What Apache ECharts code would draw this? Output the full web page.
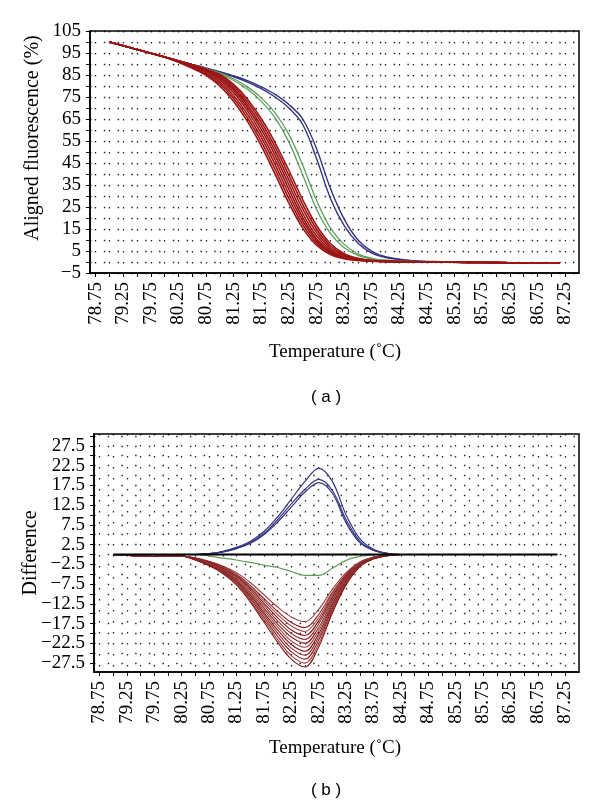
<!DOCTYPE html>
<html><head><meta charset="utf-8">
<script src="https://cdn.jsdelivr.net/npm/echarts@6/dist/echarts.min.js"></script>
<style>html,body{margin:0;padding:0;background:#fff}#c{width:600px;height:804px}</style>
</head><body><div id="c"></div>
<script>
// ---------- shared tick / label values ----------
const xTickValues = [78.75,79.0,79.25,79.5,79.75,80.0,80.25,80.5,80.75,81.0,81.25,81.5,81.75,82.0,82.25,82.5,82.75,83.0,83.25,83.5,83.75,84.0,84.25,84.5,84.75,85.0,85.25,85.5,85.75,86.0,86.25,86.5,86.75,87.0,87.25];
const xLabelValues = [78.75,79.25,79.75,80.25,80.75,81.25,81.75,82.25,82.75,83.25,83.75,84.25,84.75,85.25,85.75,86.25,86.75,87.25];
const yTickValuesA = [-5,0,5,10,15,20,25,30,35,40,45,50,55,60,65,70,75,80,85,90,95,100,105];
const yLabelValuesA = [-5,5,15,25,35,45,55,65,75,85,95,105];
const yTickValuesB = [-27.5,-25,-22.5,-20,-17.5,-15,-12.5,-10,-7.5,-5,-2.5,0,2.5,5,7.5,10,12.5,15,17.5,20,22.5,25,27.5,30];
const yLabelValuesB = [-27.5,-22.5,-17.5,-12.5,-7.5,-2.5,2.5,7.5,12.5,17.5,22.5,27.5];

// ---------- (a) aligned fluorescence ----------
const tempsA = [79.0,79.5,80.0,80.5,80.75,81.0,81.25,81.5,81.75,82.0,82.25,82.5,82.75,83.0,83.25,83.5,83.75,84.0,84.5,85.0,85.5,86.0,86.5,87.15];
const blueA1 = [100,96.6,93.2,89.7,88.0,86.2,84.2,81.8,78.8,75.0,70.0,62.5,47.0,29.0,16.5,8.5,4.0,2.0,0.5,0.1,-0.05,-0.2,-0.35,-0.5];
const blueA2 = [100,96.6,93.2,89.8,88.2,86.5,84.6,82.4,79.6,76.2,71.6,65.0,51.5,33.5,19.5,10.0,4.8,2.4,0.6,0.15,-0.05,-0.2,-0.35,-0.5];
const greenA1 = [100,96.6,93.2,89.6,87.6,85.5,82.5,78.5,73.0,65.5,54.5,39.5,24.0,13.0,6.5,3.0,1.4,0.7,0.2,0.05,-0.1,-0.25,-0.4,-0.55];
const greenA2 = [100,96.6,93.2,89.7,87.9,86.0,83.3,79.6,74.6,67.8,58.0,44.0,28.0,15.5,8.0,3.7,1.7,0.8,0.25,0.05,-0.1,-0.25,-0.4,-0.55];
const redA1 = [100,96.6,93.2,88.1,84.9,80.0,73.0,63.9,52.8,39.9,26.7,15.4,7.6,3.4,1.5,0.7,0.4,0.2,0.1,0,-0.15,-0.3,-0.45,-0.6];
const redA2 = [100,96.6,93.2,88.4,85.5,80.9,74.3,65.5,54.7,42.1,28.8,17.0,8.6,3.9,1.7,0.8,0.4,0.2,0.1,0,-0.15,-0.3,-0.45,-0.6];
const redA3 = [100,96.6,93.2,88.8,86.1,81.8,75.6,67.1,56.6,44.3,30.9,18.6,9.6,4.3,1.9,0.9,0.45,0.22,0.1,0,-0.15,-0.3,-0.45,-0.6];
const redA4 = [100,96.6,93.2,89.2,86.7,82.7,76.9,68.7,58.5,46.4,33.0,20.2,10.5,4.8,2.1,1.0,0.5,0.25,0.1,0,-0.15,-0.3,-0.45,-0.6];
const redA5 = [100,96.6,93.2,89.5,87.2,83.5,78.0,70.1,60.3,48.5,35.1,22.0,11.8,5.5,2.4,1.1,0.55,0.27,0.1,0,-0.15,-0.3,-0.45,-0.6];
const redA6 = [100,96.6,93.2,89.6,87.4,84.1,78.9,71.4,61.9,50.4,37.2,24.1,13.4,6.4,2.9,1.3,0.62,0.3,0.12,0,-0.15,-0.3,-0.45,-0.6];
const redA7 = [100,96.6,93.2,89.6,87.5,84.7,79.8,72.7,63.5,52.3,39.4,26.2,15.0,7.4,3.3,1.5,0.7,0.35,0.12,0,-0.15,-0.3,-0.45,-0.6];
const redA8 = [100,96.6,93.2,89.6,87.6,85.2,80.7,74.0,65.1,54.2,41.6,28.3,16.6,8.4,3.8,1.7,0.8,0.4,0.15,0,-0.15,-0.3,-0.45,-0.6];

// ---------- (b) difference ----------
const tempsB = [79.0,79.5,79.75,80.0,80.25,80.5,80.75,81.0,81.25,81.5,81.75,82.0,82.25,82.5,82.75,83.0,83.25,83.5,83.75,84.0,84.25,84.5,85.0,86.0,87.1];
const blackB = [0,0,0,0,0,0,0,0,0,0,0,0,0,0,0,0,0,0,0,0,0,0,0,0,0];
const blueB1 = [0,0,0,0,0,0,0.2,0.8,1.8,3.3,5.8,9.5,14.0,18.5,21.8,18.5,10.0,4.0,1.3,0.3,0,0,0,0,0];
const blueB2 = [0,0,0,0,0,0,0.2,0.7,1.6,3.0,5.3,8.8,12.8,16.5,19.0,16.2,8.8,3.4,1.1,0.3,0,0,0,0,0];
const blueB3 = [0,0,0,0,0,0,0.2,0.6,1.5,2.8,5.0,8.2,12.0,15.8,18.2,15.5,8.0,3.0,1.0,0.25,0,0,0,0,0];
const greenB = [0,0,0,0,0,0,-0.4,-0.9,-1.4,-2.0,-2.7,-3.3,-4.3,-5.3,-5.3,-3.5,-1.5,-0.5,-0.1,0,0,0,0,0,0];
const redB1 = [0,-0.4,-0.5,-0.3,-0.4,-0.85,-1.7,-2.9,-4.6,-7.1,-10.2,-13.3,-15.8,-17.0,-13.9,-8.8,-4.6,-1.9,-0.7,-0.2,0,0,0,0,0];
const redB2 = [0,-0.4,-0.5,-0.3,-0.4,-0.9,-1.85,-3.1,-5.0,-7.8,-11.1,-14.4,-17.2,-18.5,-15.2,-9.6,-5.0,-2.0,-0.7,-0.2,0,0,0,0,0];
const redB3 = [0,-0.4,-0.5,-0.3,-0.4,-1.0,-1.95,-3.3,-5.3,-8.2,-11.7,-15.2,-18.1,-19.5,-16.0,-10.1,-5.3,-2.1,-0.8,-0.2,0,0,0,0,0];
const redB4 = [0,-0.4,-0.5,-0.3,-0.4,-1.0,-2.05,-3.5,-5.5,-8.6,-12.3,-16.0,-19.1,-20.5,-16.8,-10.7,-5.5,-2.3,-0.8,-0.2,0,0,0,0,0];
const redB5 = [0,-0.4,-0.5,-0.3,-0.4,-1.1,-2.15,-3.7,-5.8,-9.0,-12.9,-16.8,-20.0,-21.5,-17.6,-11.2,-5.8,-2.4,-0.9,-0.2,0,0,0,0,0];
const redB6 = [0,-0.4,-0.5,-0.3,-0.4,-1.1,-2.25,-3.8,-6.1,-9.5,-13.5,-17.6,-20.9,-22.5,-18.5,-11.7,-6.1,-2.5,-0.9,-0.2,0,0,0,0,0];
const redB7 = [0,-0.4,-0.5,-0.3,-0.4,-1.2,-2.35,-4.0,-6.3,-9.9,-14.1,-18.3,-21.9,-23.5,-19.3,-12.2,-6.3,-2.6,-0.9,-0.2,0,0,0,0,0];
const redB8 = [0,-0.4,-0.5,-0.3,-0.4,-1.2,-2.45,-4.2,-6.6,-10.3,-14.7,-19.1,-22.8,-24.5,-20.1,-12.7,-6.6,-2.7,-1.0,-0.2,0,0,0,0,0];
const redB9 = [0,-0.4,-0.5,-0.3,-0.4,-1.3,-2.55,-4.3,-6.9,-10.7,-15.3,-19.9,-23.7,-25.5,-20.9,-13.3,-6.9,-2.8,-1.0,-0.3,0,0,0,0,0];
const redB10 = [0,-0.4,-0.5,-0.3,-0.4,-1.3,-2.65,-4.5,-7.2,-11.1,-15.9,-20.7,-24.6,-26.5,-21.7,-13.8,-7.2,-2.9,-1.1,-0.3,0,0,0,0,0];
const redB11 = [0,-0.4,-0.5,-0.3,-0.4,-1.4,-2.75,-4.7,-7.4,-11.6,-16.5,-21.5,-25.6,-27.5,-22.6,-14.3,-7.4,-3.0,-1.1,-0.3,0,0,0,0,0];
const redB12 = [0,-0.4,-0.5,-0.3,-0.4,-1.4,-2.85,-4.8,-7.7,-12.0,-17.1,-22.2,-26.5,-28.5,-23.4,-14.8,-7.7,-3.1,-1.1,-0.3,0,0,0,0,0];

// ---------- chart ----------
const SERIF = 'Liberation Serif';
const minus = s => s.replace('-', '\u2212');

function xAxisCfg(gi) {
  return {
    type: 'value', gridIndex: gi, min: 78.65, max: 87.5,
    axisLine: {show: true, onZero: false, lineStyle: {color: '#000', width: 1.5}},
    axisTick: {show: true, inside: false, length: 4, customValues: xTickValues, lineStyle: {color: '#000', width: 1}},
    axisLabel: {customValues: xLabelValues, rotate: 90, margin: 9, fontFamily: SERIF, fontSize: 19, color: '#000',
      formatter: v => v.toFixed(2)},
    splitLine: {show: true, lineStyle: {color: '#000', type: [1.5, 9.5], width: 1.3, opacity: 0.85}}
  };
}
function yAxisCfg(gi, min, max, ticks, labels, dec, dash) {
  return {
    type: 'value', gridIndex: gi, min, max,
    axisLine: {show: true, onZero: false, lineStyle: {color: '#000', width: 1.5}},
    axisTick: {show: true, inside: false, length: 4, customValues: ticks, lineStyle: {color: '#000', width: 1}},
    axisLabel: {customValues: labels, margin: 9, fontFamily: SERIF, fontSize: 19, color: '#000',
      formatter: v => minus(v.toFixed(dec))},
    splitLine: {show: true, lineStyle: {color: '#000', type: dash, width: 1.3, opacity: 0.85}}
  };
}
function line(xs, ys, color, width, gi, z) {
  return {type: 'line', xAxisIndex: gi, yAxisIndex: gi, data: xs.map((x, i) => [x, ys[i]]),
    showSymbol: false, symbol: 'none', smooth: 0.35, silent: true, z: z,
    lineStyle: {color, width}};
}

const series = [];
series.push(line(tempsA, blueA1, '#34347f', 1.4, 0, 2));
series.push(line(tempsA, blueA2, '#34347f', 1.4, 0, 2));
series.push(line(tempsA, greenA1, '#5e9e5e', 1.3, 0, 3));
series.push(line(tempsA, greenA2, '#5e9e5e', 1.3, 0, 3));
[redA1, redA2, redA3, redA4, redA5, redA6, redA7, redA8].forEach(r => series.push(line(tempsA, r, '#9c1414', 1.6, 0, 4)));

const redShades = ['#9a4040','#8a2020','#a34848','#7e1414','#963535','#8c2626','#a04545','#7c1616','#923030','#87201f','#9e4242','#801818'];
[redB1, redB2, redB3, redB4, redB5, redB6, redB7, redB8, redB9, redB10, redB11, redB12].forEach((r, i) => series.push(line(tempsB, r, redShades[i], 1.1, 1, 2)));
series.push(line(tempsB, greenB, '#5e9e5e', 1.2, 1, 3));
series.push(line(tempsB, blueB1, '#34347f', 1.2, 1, 3));
series.push(line(tempsB, blueB2, '#34347f', 1.2, 1, 3));
series.push(line(tempsB, blueB3, '#34347f', 1.2, 1, 3));
series.push(line(tempsB, blackB, '#000000', 1.8, 1, 5));

const chart = echarts.init(document.getElementById('c'), null, {renderer: 'canvas'});
chart.setOption({
  animation: false,
  backgroundColor: '#fff',
  grid: [
    {left: 90, top: 31, width: 489, height: 242, show: true, borderColor: '#000', borderWidth: 1.5, containLabel: false},
    {left: 94, top: 434, width: 485, height: 238, show: true, borderColor: '#000', borderWidth: 1.5, containLabel: false}
  ],
  xAxis: [xAxisCfg(0), xAxisCfg(1)],
  yAxis: [
    yAxisCfg(0, -5, 105, yTickValuesA, yLabelValuesA, 0, [1.5, 12.3]),
    yAxisCfg(1, -29.75, 30.5, yTickValuesB, yLabelValuesB, 1, [1.5, 12.2])
  ],
  series,
  graphic: [
    {type: 'text', x: 33, y: 138, rotation: Math.PI / 2, style: {text: 'Aligned fluorescence (%)', font: '20px "Liberation Serif"', fill: '#000', align: 'center', verticalAlign: 'middle'}},
    {type: 'text', x: 335, y: 352, style: {text: 'Temperature (\u02DAC)', font: '19px "Liberation Serif"', fill: '#000', align: 'center', verticalAlign: 'middle'}},
    {type: 'text', x: 326, y: 397, style: {text: '( a )', font: '17px "Liberation Sans"', fill: '#000', align: 'center', verticalAlign: 'middle'}},
    {type: 'text', x: 31, y: 553, rotation: Math.PI / 2, style: {text: 'Difference', font: '20px "Liberation Serif"', fill: '#000', align: 'center', verticalAlign: 'middle'}},
    {type: 'text', x: 335, y: 748, style: {text: 'Temperature (\u02DAC)', font: '19px "Liberation Serif"', fill: '#000', align: 'center', verticalAlign: 'middle'}},
    {type: 'text', x: 326, y: 790, style: {text: '( b )', font: '17px "Liberation Sans"', fill: '#000', align: 'center', verticalAlign: 'middle'}}
  ]
});
</script></body></html>
